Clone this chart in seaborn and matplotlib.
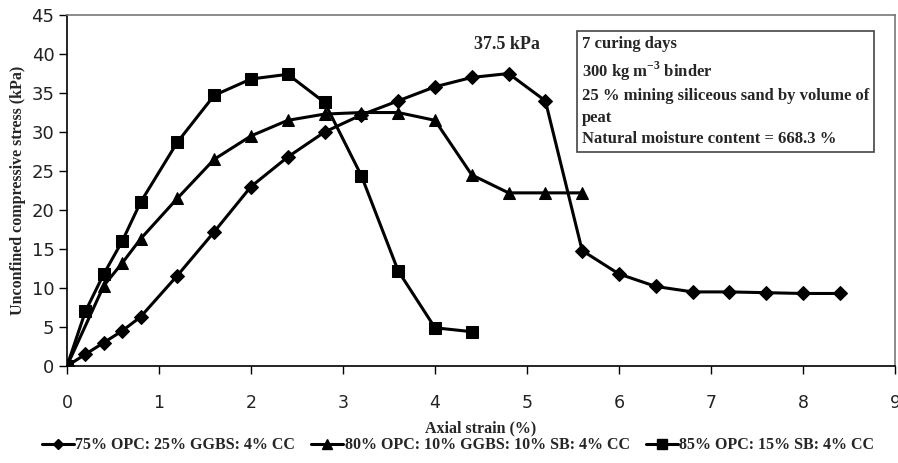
import numpy as np
import pandas as pd
import seaborn as sns
import matplotlib.pyplot as plt
from matplotlib.lines import Line2D

opc75_x = [0, 0.2, 0.4, 0.6, 0.8, 1.2, 1.6, 2.0, 2.4, 2.8, 3.2, 3.6, 4.0, 4.4,
           4.8, 5.2, 5.6, 6.0, 6.4, 6.8, 7.2, 7.6, 8.0, 8.4]
opc75_y = [0, 1.5, 3.0, 4.5, 6.3, 11.6, 17.2, 23.0, 26.8, 30.0, 32.2, 34.0, 35.8, 37.0,
           37.5, 34.0, 14.8, 11.8, 10.2, 9.5, 9.5, 9.4, 9.3, 9.3]

opc80_x = [0, 0.4, 0.6, 0.8, 1.2, 1.6, 2.0, 2.4, 2.8, 3.2, 3.6, 4.0, 4.4, 4.8, 5.2, 5.6]
opc80_y = [0, 10.3, 13.2, 16.3, 21.5, 26.5, 29.5, 31.5, 32.3, 32.5, 32.5, 31.5, 24.5,
           22.2, 22.2, 22.2]

opc85_x = [0, 0.2, 0.4, 0.6, 0.8, 1.2, 1.6, 2.0, 2.4, 2.8, 3.2, 3.6, 4.0, 4.4]
opc85_y = [0, 7.0, 11.8, 16.0, 21.0, 28.7, 34.7, 36.8, 37.4, 33.8, 24.4, 12.2, 4.9, 4.4]

labels = ['75% OPC: 25% GGBS: 4% CC',
          '80% OPC: 10% GGBS: 10% SB: 4% CC',
          '85% OPC: 15% SB: 4% CC']
markers = ['D', '^', 's']
msizes = [7, 9, 9]

df = pd.concat([
    pd.DataFrame({'strain': opc75_x, 'stress': opc75_y, 'mix': labels[0]}),
    pd.DataFrame({'strain': opc80_x, 'stress': opc80_y, 'mix': labels[1]}),
    pd.DataFrame({'strain': opc85_x, 'stress': opc85_y, 'mix': labels[2]}),
])

sns.set_style('white')
plt.rcParams['font.family'] = ['DejaVu Sans']
plt.rcParams['mathtext.fontset'] = 'custom'
plt.rcParams['mathtext.bf'] = 'Liberation Serif:bold'
plt.rcParams['mathtext.rm'] = 'Liberation Serif:bold'
serif = 'Liberation Serif'

fig = plt.figure(figsize=(8.98, 4.63), dpi=100)
ax = fig.add_axes([0.0746, 0.2095, 0.922, 0.758])

for lab, m, ms in zip(labels, markers, msizes):
    sub = df[df['mix'] == lab]
    sns.lineplot(data=sub, x='strain', y='stress', ax=ax, color='black', lw=2.2,
                 marker=m, markersize=ms, markeredgecolor='black',
                 markerfacecolor='black', sort=False, legend=False)

ax.set_xlim(0, 9)
ax.set_ylim(0, 45)
ax.set_xticks(range(0, 10))
ax.set_yticks(range(0, 50, 5))
ax.tick_params(axis='x', direction='out', length=6, width=1, colors='black',
               labelsize=12.5, pad=14)
ax.tick_params(axis='y', direction='out', length=6, width=1, colors='black',
               labelsize=13, pad=3)
for tl in ax.get_xticklabels() + ax.get_yticklabels():
    tl.set_color('#222222')
ax.tick_params(bottom=True, left=True)

for side in ['left', 'bottom']:
    ax.spines[side].set_color('black')
    ax.spines[side].set_linewidth(1.2)
for side in ['top', 'right']:
    ax.spines[side].set_color('#777777')
    ax.spines[side].set_linewidth(1.2)

ax.set_xlabel('Axial strain (%)', family=serif, fontweight='bold', fontsize=11.5,
              labelpad=6)
ax.set_ylabel('Unconfined compressive stress (kPa)', family=serif,
              fontweight='bold', fontsize=11.5, labelpad=4)

ax.text(4.78, 41.2, '37.5 kPa', family=serif, fontweight='bold', fontsize=13,
        ha='center', va='center')

box_text = ('7 curing days\n'
            '300 kg m$^{-3}$ binder\n'
            '25 % mining siliceous sand by volume of\n'
            'peat\n'
            'Natural moisture content = 668.3 %')
ax.text(0.622, 0.94, box_text, transform=ax.transAxes, family=serif,
        fontweight='bold', fontsize=12, ha='left', va='top', linespacing=1.45,
        bbox=dict(boxstyle='square,pad=0.3', fc='white', ec='#444444', lw=1.2))

handles = [Line2D([0], [0], color='black', lw=2.2, marker=m, markersize=ms * 0.8)
           for m, ms in zip(markers, msizes)]
fig.legend(handles, labels, loc='lower center', bbox_to_anchor=(0.51, -0.01),
           ncol=3, frameon=False, prop={'family': serif, 'weight': 'bold', 'size': 11.5},
           handlelength=2.0, handletextpad=0.1, columnspacing=1.0)

fig.savefig('out.png', dpi=100)
